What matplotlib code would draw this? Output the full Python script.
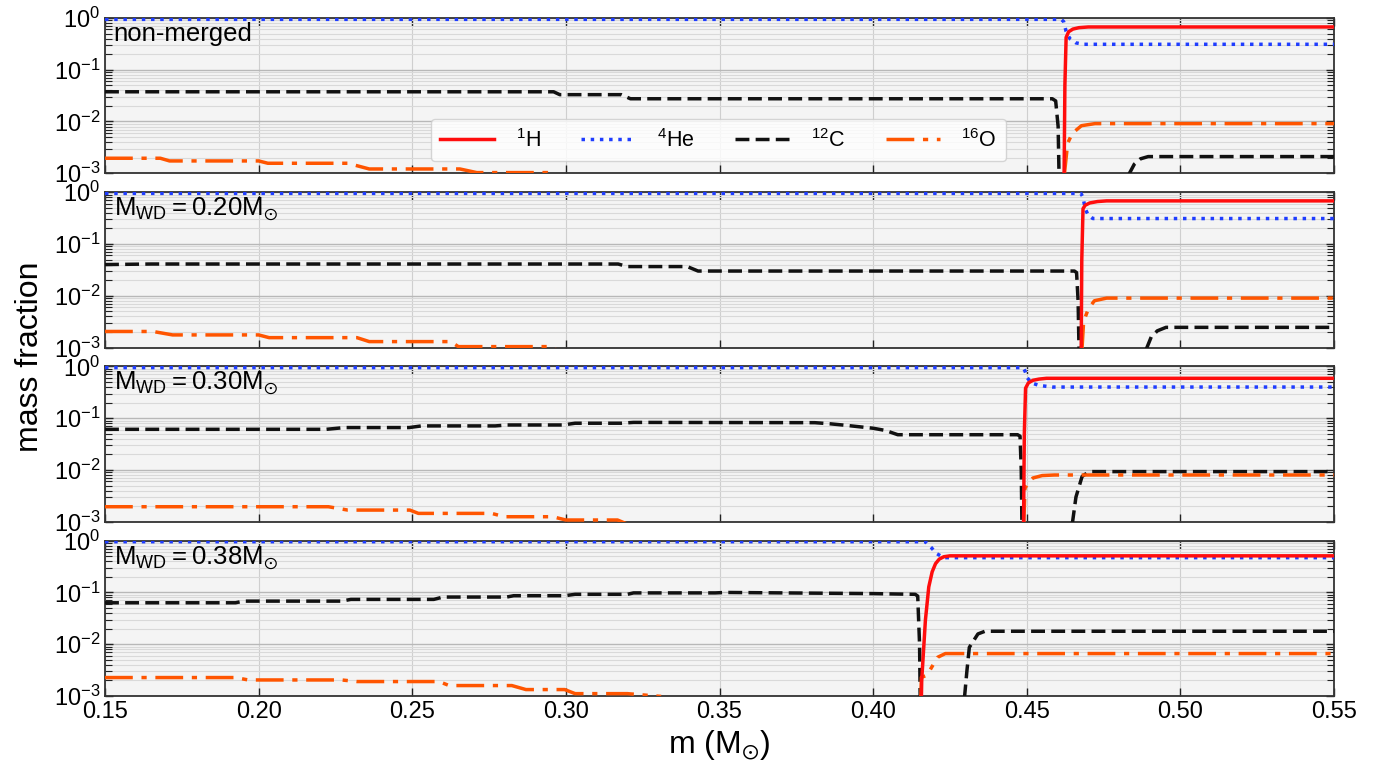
import numpy as np
import matplotlib
matplotlib.use('Agg')
import matplotlib.pyplot as plt

nan = np.nan

# ---- non-merged ----
h_x_nm = [0.4620, 0.4624, 0.4628, 0.4636, 0.4650, 0.4670, 0.4700, 0.550]
h_y_nm = [1e-4, 0.05, 0.42, 0.54, 0.61, 0.65, 0.67, 0.67]
he_x_nm = [0.150, 0.4612, 0.4620, 0.4628, 0.4640, 0.4660, 0.4685, 0.550]
he_y_nm = [0.94, 0.94, 0.85, 0.55, 0.40, 0.33, 0.31, 0.31]
c_x_nm = [0.150, 0.296, 0.298, 0.318, 0.321, 0.4583, 0.4594, 0.4602, 0.4608,
          nan, 0.4830, 0.4850, 0.4870, 0.4895, 0.550]
c_y_nm = [0.0375, 0.0375, 0.033, 0.033, 0.0275, 0.0275, 0.025, 0.008, 1e-4,
          nan, 0.0009, 0.0015, 0.0019, 0.0021, 0.0021]
o_x_nm = [0.150, 0.168, 0.171, 0.200, 0.203, 0.229, 0.236, 0.2655, 0.271, 0.294, 0.297,
          nan, 0.4621, 0.4633, 0.4648, 0.4678, 0.4722, 0.550]
o_y_nm = [0.00195, 0.00195, 0.00173, 0.00173, 0.00156, 0.00156, 0.00121, 0.00121, 0.00103, 0.00103, 0.0009,
          nan, 0.0008, 0.0038, 0.0059, 0.0083, 0.0091, 0.0091]

# ---- M_WD = 0.20 ----
h_x_20 = [0.4676, 0.4679, 0.4683, 0.4690, 0.4705, 0.4730, 0.4760, 0.550]
h_y_20 = [1e-4, 0.05, 0.48, 0.56, 0.62, 0.66, 0.68, 0.68]
he_x_20 = [0.150, 0.4676, 0.4683, 0.4690, 0.4700, 0.4715, 0.550]
he_y_20 = [0.95, 0.95, 0.80, 0.48, 0.36, 0.31, 0.31]
c_x_20 = [0.150, 0.165, 0.317, 0.320, 0.3395, 0.343, 0.4655, 0.4662, 0.4667, 0.4673,
          nan, 0.4888, 0.4905, 0.4925, 0.4953, 0.550]
c_y_20 = [0.040, 0.041, 0.041, 0.0366, 0.0366, 0.030, 0.030, 0.028, 0.008, 1e-4,
          nan, 0.0009, 0.0016, 0.0021, 0.00245, 0.00245]
o_x_20 = [0.150, 0.1656, 0.172, 0.200, 0.2034, 0.232, 0.236, 0.2625, 0.265, 0.294, 0.297,
          nan, 0.4679, 0.4685, 0.470, 0.472, 0.476, 0.550]
o_y_20 = [0.00204, 0.00204, 0.00175, 0.00175, 0.00155, 0.00155, 0.0013, 0.0013, 0.00104, 0.00104, 0.0009,
          nan, 0.0008, 0.0032, 0.0055, 0.0080, 0.0090, 0.0090]

# ---- M_WD = 0.30 ----
h_x_30 = [0.4488, 0.4492, 0.4496, 0.4505, 0.4520, 0.4540, 0.4564, 0.550]
h_y_30 = [1e-4, 0.05, 0.38, 0.48, 0.54, 0.57, 0.59, 0.59]
he_x_30 = [0.150, 0.4488, 0.4494, 0.4502, 0.4515, 0.4540, 0.4583, 0.550]
he_y_30 = [0.95, 0.95, 0.82, 0.60, 0.48, 0.43, 0.40, 0.40]
c_x_30 = [0.150, 0.222, 0.228, 0.249, 0.253, 0.277, 0.281, 0.299, 0.303, 0.318, 0.322,
          0.381, 0.386, 0.391, 0.400, 0.404, 0.408, 0.447, 0.4478, 0.4482, 0.4486,
          nan, 0.4648, 0.4660, 0.4680, 0.4703, 0.550]
c_y_30 = [0.061, 0.061, 0.066, 0.066, 0.071, 0.071, 0.074, 0.074, 0.080, 0.080, 0.083,
          0.082, 0.078, 0.073, 0.064, 0.058, 0.048, 0.048, 0.045, 0.010, 1e-4,
          nan, 0.0009, 0.0030, 0.0075, 0.0093, 0.0093]
o_x_30 = [0.150, 0.2227, 0.229, 0.2492, 0.252, 0.2758, 0.280, 0.2957, 0.300, 0.3168, 0.320,
          nan, 0.4490, 0.4494, 0.4505, 0.452, 0.455, 0.459, 0.550]
o_y_30 = [0.00195, 0.00195, 0.00168, 0.00168, 0.00145, 0.00145, 0.00125, 0.00125, 0.00108, 0.00108, 0.0009,
          nan, 0.0008, 0.0044, 0.0058, 0.0070, 0.0078, 0.0080, 0.0080]

# ---- M_WD = 0.38 ----
h_x_38 = [0.4154, 0.4158, 0.4170, 0.4181, 0.4192, 0.4203, 0.4215, 0.4230, 0.4250, 0.550]
h_y_38 = [1e-4, 0.002, 0.029, 0.128, 0.25, 0.36, 0.44, 0.49, 0.51, 0.51]
he_x_38 = [0.150, 0.4170, 0.4188, 0.4205, 0.4222, 0.4237, 0.550]
he_y_38 = [0.955, 0.955, 0.75, 0.57, 0.50, 0.47, 0.47]
c_x_38 = [0.150, 0.1925, 0.195, 0.227, 0.230, 0.257, 0.260, 0.2807, 0.283, 0.2996, 0.303,
          0.320, 0.322, 0.3486, 0.352, 0.400, 0.4137, 0.4145, 0.4151, 0.4155,
          nan, 0.4297, 0.4305, 0.4313, 0.4341, 0.4364, 0.550]
c_y_38 = [0.0632, 0.0632, 0.068, 0.068, 0.0734, 0.0734, 0.0815, 0.0815, 0.0865, 0.0865, 0.092,
          0.092, 0.098, 0.098, 0.100, 0.095, 0.092, 0.085, 0.010, 1e-4,
          nan, 0.0009, 0.0030, 0.0087, 0.0158, 0.0178, 0.0178]
o_x_38 = [0.150, 0.1925, 0.1966, 0.227, 0.232, 0.2587, 0.262, 0.2824, 0.287, 0.2996, 0.303, 0.320, 0.331,
          nan, 0.4155, 0.4157, 0.4175, 0.4195, 0.4210, 0.4235, 0.550]
o_y_38 = [0.00227, 0.00227, 0.00204, 0.00204, 0.0019, 0.0019, 0.00159, 0.00159, 0.00133, 0.00133, 0.00111, 0.00111, 0.00098,
          nan, 0.0008, 0.0023, 0.0025, 0.0040, 0.0056, 0.0066, 0.0066]

panel_labels = ['non-merged',
                r'$M_{WD} = 0.20M_{\odot}$',
                r'$M_{WD} = 0.30M_{\odot}$',
                r'$M_{WD} = 0.38M_{\odot}$']
species = [r'$^{1}$H', r'$^{4}$He', r'$^{12}$C', r'$^{16}$O']
x_ticks = [0.15, 0.20, 0.25, 0.30, 0.35, 0.40, 0.45, 0.50, 0.55]

panels = [
    (h_x_nm, h_y_nm, he_x_nm, he_y_nm, c_x_nm, c_y_nm, o_x_nm, o_y_nm),
    (h_x_20, h_y_20, he_x_20, he_y_20, c_x_20, c_y_20, o_x_20, o_y_20),
    (h_x_30, h_y_30, he_x_30, he_y_30, c_x_30, c_y_30, o_x_30, o_y_30),
    (h_x_38, h_y_38, he_x_38, he_y_38, c_x_38, c_y_38, o_x_38, o_y_38),
]

plt.rcParams['font.family'] = ['Liberation Sans', 'DejaVu Sans']
plt.rcParams['mathtext.default'] = 'regular'

fig, axes = plt.subplots(4, 1, sharex=True, figsize=(13.8, 7.71), dpi=100)
fig.subplots_adjust(left=0.0761, right=0.9667, top=0.9767, bottom=0.0973, hspace=0.122)

lw = 2.5
for i, ax in enumerate(axes):
    hx, hy, hex_, hey, cx, cy, ox, oy = panels[i]
    ax.set_facecolor('#f4f4f4')
    ax.plot(hx, hy, '-', color='#ff0d0d', lw=lw, label=species[0], zorder=4)
    ax.plot(hex_, hey, ':', color='#1f3dff', lw=lw, label=species[1], zorder=3)
    ax.plot(cx, cy, '--', color='#111111', lw=lw, label=species[2], dashes=(4, 1.8), zorder=3)
    ax.plot(ox, oy, '-.', color='#ff5500', lw=lw, label=species[3], dashes=(8, 2.5, 1.5, 2.5), zorder=3)

    ax.set_yscale('log')
    ax.set_ylim(1e-3, 1)
    ax.set_xlim(0.15, 0.55)
    ax.set_xticks(x_ticks)

    ax.grid(which='major', axis='y', color='#b8b8b8', lw=1.0)
    ax.grid(which='minor', axis='y', color='#d9d9d9', lw=0.8)
    ax.grid(which='major', axis='x', color='#cfcfcf', lw=0.8)
    ax.set_axisbelow(True)

    ax.tick_params(which='both', direction='in', top=True, right=True, labelsize=17, color='#222222')
    ax.tick_params(which='major', length=6, width=1.0)
    ax.tick_params(which='minor', length=5, width=0.8)
    ax.tick_params(axis='x', which='minor', top=False, bottom=False)
    for s in ax.spines.values():
        s.set_color('#333333')
        s.set_linewidth(1.3)

    ax.text(0.007, 0.975, panel_labels[i], transform=ax.transAxes, ha='left', va='top', fontsize=18.5)

axes[0].legend(loc='center', bbox_to_anchor=(0.499, 0.213), ncol=4, fontsize=15.5,
               handlelength=2.5, handletextpad=1.0, columnspacing=1.9, borderpad=0.45)

fig.text(0.022, 0.537, 'mass fraction', rotation=90, ha='center', va='center', fontsize=23)
fig.text(0.521, 0.034, r'm (M$_{\odot}$)', ha='center', va='center', fontsize=23)

plt.savefig('out.png', dpi=100)
